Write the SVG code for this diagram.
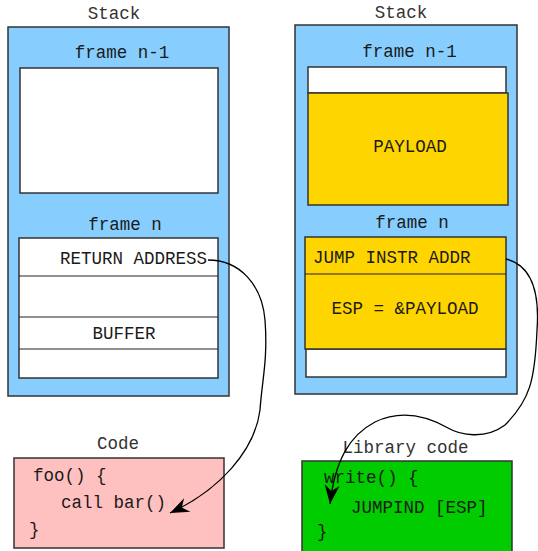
<svg xmlns="http://www.w3.org/2000/svg" width="538" height="551" viewBox="0 0 538 551">
<style>
text{font-family:"Liberation Mono","DejaVu Sans Mono",monospace;font-size:17.5px;fill:#1a1a1a}
.c{text-anchor:middle}
.t{fill:#333}
.box{stroke:#333;stroke-width:1.5}
.stack{fill:#87CEFF}
.white{fill:#fff}
.yel{fill:#FFD500}
.pink{fill:#FFC0C0}
.green{fill:#00CC00}
.sep{stroke:#222;stroke-width:1.2}
.conn{fill:none;stroke:#000;stroke-width:1.3}
</style>
<defs>
<marker id="ah" markerUnits="userSpaceOnUse" markerWidth="22" markerHeight="18" viewBox="-20 -9 22 18" refX="0" refY="0" orient="auto">
<path d="M0,0 L-19,-7.5 L-13,0 L-19,7.5 Z" fill="#000"/>
</marker>
</defs>
<g id="stack-left">
<text class="c t" x="114" y="19">Stack</text>
<rect class="box stack" x="8" y="27" width="221" height="369"/>
<text class="c" x="122" y="58">frame n-1</text>
<rect class="box white" x="20" y="68" width="198" height="125"/>
<text class="c" x="125" y="230">frame n</text>
<rect class="box white" x="19" y="238" width="199" height="140"/>
<line class="sep" x1="19" y1="276" x2="218" y2="276"/>
<line class="sep" x1="19" y1="317" x2="218" y2="317"/>
<line class="sep" x1="19" y1="349" x2="218" y2="349"/>
<text x="60" y="264">RETURN ADDRESS</text>
<text class="c" x="124" y="339">BUFFER</text>
</g>
<g id="stack-right">
<text class="c t" x="401" y="18">Stack</text>
<rect class="box stack" x="295" y="25" width="222" height="369"/>
<text class="c" x="409.5" y="57">frame n-1</text>
<rect class="box white" x="308" y="67" width="198" height="26"/>
<rect class="box yel" x="308" y="93" width="200" height="112"/>
<text class="c" x="410" y="152">PAYLOAD</text>
<text class="c" x="412" y="228">frame n</text>
<rect class="box white" x="306" y="349" width="200" height="28"/>
<rect class="box yel" x="305" y="237" width="201" height="112"/>
<line class="sep" x1="305" y1="274" x2="506" y2="274"/>
<text x="313" y="263">JUMP INSTR ADDR</text>
<text class="c" x="405" y="314">ESP = &amp;PAYLOAD</text>
</g>
<g id="code">
<text class="c t" x="118" y="449">Code</text>
<rect class="box pink" x="14" y="458" width="210" height="90"/>
<text x="33" y="481">foo() {</text>
<text x="61" y="508">call bar()</text>
<text x="29" y="535">}</text>
</g>
<g id="library-code">
<text class="c t" x="405.5" y="453">Library code</text>
<rect class="box green" x="302" y="461" width="210" height="100"/>
<text x="324" y="483">write() {</text>
<text x="351" y="513">JUMPIND [ESP]</text>
<text x="317" y="537">}</text>
</g>
<g id="connectors">
<path class="conn" d="M208,260 C240,260 262,285 265,320 C268,360 262,380 260,410 C255,450 220,490 170,513" marker-end="url(#ah)"/>
<path class="conn" d="M506,259 C530,265 540,290 537,330 C535,380 530,400 505,425 C485,440 460,435 448,428 C425,415 400,410 375,422 C350,435 335,460 330,504" marker-end="url(#ah)"/>
</g>
</svg>
